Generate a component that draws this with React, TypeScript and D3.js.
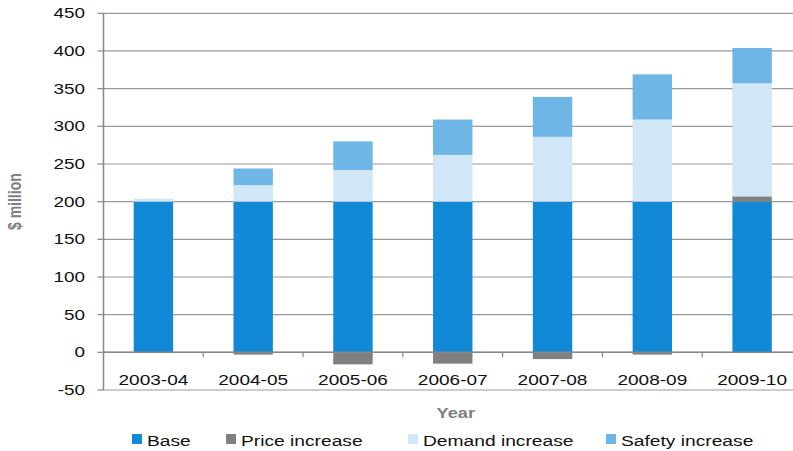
import React from "react";
import * as d3 from "d3";

const categories = ["2003-04", "2004-05", "2005-06", "2006-07", "2007-08", "2008-09", "2009-10"];
const base = [200, 200, 200, 200, 200, 200, 200];
const price = [0, -3, -16, -15, -9, -3, 7];
const demand = [4, 22, 42, 62, 86, 109, 150];
const safety = [0, 22, 38, 47, 53, 60, 47];
const yTicks = [-50, 0, 50, 100, 150, 200, 250, 300, 350, 400, 450];
const seriesNames = ["Base", "Price increase", "Demand increase", "Safety increase"];
const seriesKeys = ["base", "price", "demand", "safety"];
const colors = ["#1189d7", "#808080", "#d1e6f6", "#6db6e5"];

const W = 793;
const H = 451;
const left = 103.5;
const right = 802;
const top = 13.3;
const bottom = 390;
const FONT = "'Liberation Sans', Arial, sans-serif";

export default function App() {
  const rows = categories.map((c, i) => ({
    cat: c,
    base: base[i],
    price: price[i],
    demand: demand[i],
    safety: safety[i],
  }));
  const stack = d3
    .stack<any>()
    .keys(seriesKeys)
    .offset(d3.stackOffsetDiverging);
  const series = stack(rows);

  const x = d3
    .scaleBand<string>()
    .domain(categories)
    .range([left, right])
    .paddingInner(0.605)
    .paddingOuter(0.3025);
  const step = x.step();
  const y = d3.scaleLinear().domain([-50, 450]).range([bottom, top]);

  const legendX = [132, 226, 408, 606];

  return (
    <svg
      width={W}
      height={H}
      style={{ position: "absolute", left: 0, top: 0, background: "#fff" }}
      fontFamily={FONT}
    >
      {/* gridlines */}
      {yTicks.map((t) => (
        <line
          key={"g" + t}
          x1={left}
          x2={W}
          y1={y(t)}
          y2={y(t)}
          stroke="#999"
          strokeWidth={1.2}
        />
      ))}
      {/* bars */}
      {series.map((s, si) => (
        <g key={s.key} fill={colors[si]}>
          {s.map((d, i) => {
            const y0 = y(d[0]);
            const y1 = y(d[1]);
            const h = Math.abs(y0 - y1);
            if (h <= 0) return null;
            return (
              <rect
                key={i}
                x={x(categories[i])}
                width={x.bandwidth()}
                y={Math.min(y0, y1)}
                height={h}
              />
            );
          })}
        </g>
      ))}
      {/* x axis (zero line) */}
      <line x1={left} x2={W} y1={y(0)} y2={y(0)} stroke="#888" strokeWidth={1.5} />
      {categories.slice(1).map((c) => (
        <line
          key={"xt" + c}
          x1={(x(c) as number) - (step - x.bandwidth()) / 2}
          x2={(x(c) as number) - (step - x.bandwidth()) / 2}
          y1={y(0)}
          y2={y(0) + 5}
          stroke="#888"
          strokeWidth={1.2}
        />
      ))}
      {/* y axis */}
      <line x1={left} x2={left} y1={top} y2={bottom} stroke="#888" strokeWidth={1.5} />
      {yTicks.map((t) => (
        <line
          key={"yt" + t}
          x1={left - 6}
          x2={left}
          y1={y(t)}
          y2={y(t)}
          stroke="#888"
          strokeWidth={1.2}
        />
      ))}
      {yTicks.map((t) => (
        <text
          key={"yl" + t}
          transform={`translate(85,${y(t)}) scale(1.35,1)`}
          textAnchor="end"
          dy="0.36em"
          fontSize={14}
          fill="#111"
        >
          {t}
        </text>
      ))}
      {categories.map((c) => (
        <text
          key={"xl" + c}
          transform={`translate(${(x(c) as number) + x.bandwidth() / 2},385) scale(1.27,1)`}
          textAnchor="middle"
          fontSize={15}
          fill="#111"
        >
          {c}
        </text>
      ))}
      {/* axis titles */}
      <text
        transform={`translate(${(left + right) / 2 + 3},418) scale(1.3,1)`}
        textAnchor="middle"
        fontSize={14}
        fontWeight="bold"
        fill="#808080"
      >
        Year
      </text>
      <text
        transform={`translate(14,${(top + bottom) / 2}) rotate(-90) scale(1,1.3)`}
        textAnchor="middle"
        dy="0.36em"
        fontSize={14}
        fontWeight="bold"
        fill="#808080"
      >
        $ million
      </text>
      {/* legend */}
      {seriesNames.map((n, i) => (
        <g key={"lg" + n} transform={`translate(${legendX[i]},0)`}>
          <rect x={0} y={434} width={10} height={10} fill={colors[i]} />
          <text
            transform={`translate(15,445.5) scale(1.24,1)`}
            fontSize={15.5}
            fill="#111"
          >
            {n}
          </text>
        </g>
      ))}
    </svg>
  );
}
